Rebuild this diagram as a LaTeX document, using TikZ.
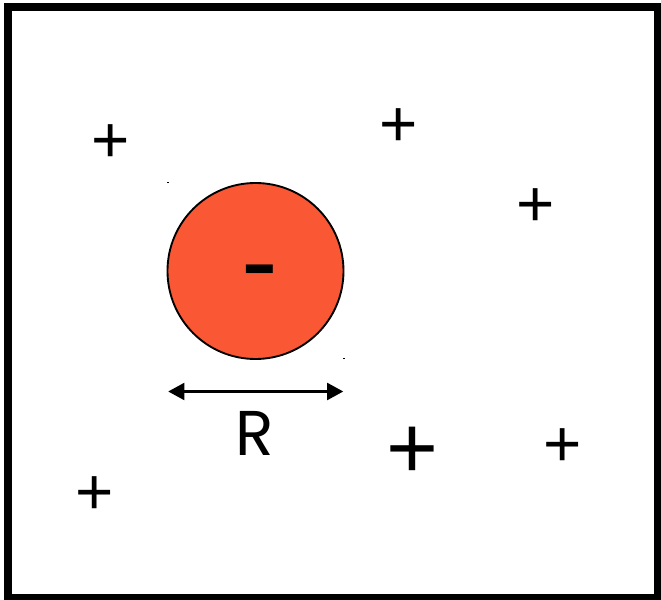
\documentclass[tikz,border=0pt]{standalone}
\usepackage{fontspec}
\setmainfont{Liberation Sans}
\newfontfamily\geofont{Poppins}
\usetikzlibrary{arrows.meta}
\definecolor{ionRed}{HTML}{FA5735}

\tikzset{
  charge/.style={inner sep=0pt, anchor=base, font=\fontsize{56}{56}\selectfont},
  bigcharge/.style={inner sep=0pt, anchor=base, font=\fontsize{76}{76}\selectfont}
}

\begin{document}
\begin{tikzpicture}[x=0.03cm, y=-0.03cm]
    \useasboundingbox (0,0) rectangle (661,600);
    \draw[line width=6pt] (8,7) rectangle (658,598);

    % central ion and its size
    \node[circle, draw, line width=1.6pt, fill=ionRed, minimum size=5.28cm,
          inner sep=0pt] (ion) at (255.5,271) {};
    \node[inner sep=0pt, anchor=base, font=\fontsize{94}{94}\selectfont]
      (minus) at (259.5,299) {-};
    \fill (167,182) rectangle (169,183.2);
    \fill (343,358) rectangle (345,359.2);

    \coordinate (rleft) at (168,391.5);
    \coordinate (rright) at (343.5,391.5);
    \draw[{Triangle[length=14pt, width=14pt]}-{Triangle[length=14pt, width=14pt]},
          line width=3.4pt] (rleft) -- (rright);
    \node[inner sep=0pt, anchor=base, font=\geofont\fontsize{54}{54}\selectfont]
      (radius) at (254.5,456) {R};

    % counter ions
    \node[charge] (p1) at (110.3,162.5) {+};
    \node[charge] (p2) at (398.3,146.6) {+};
    \node[charge] (p3) at (535.8,226.8) {+};
    \node[charge] (p4) at (94.2,514.1) {+};
    \node[bigcharge] (p5) at (412,479) {+};
    \node[charge] (p6) at (562.5,466.8) {+};
  \end{tikzpicture}
\end{document}
